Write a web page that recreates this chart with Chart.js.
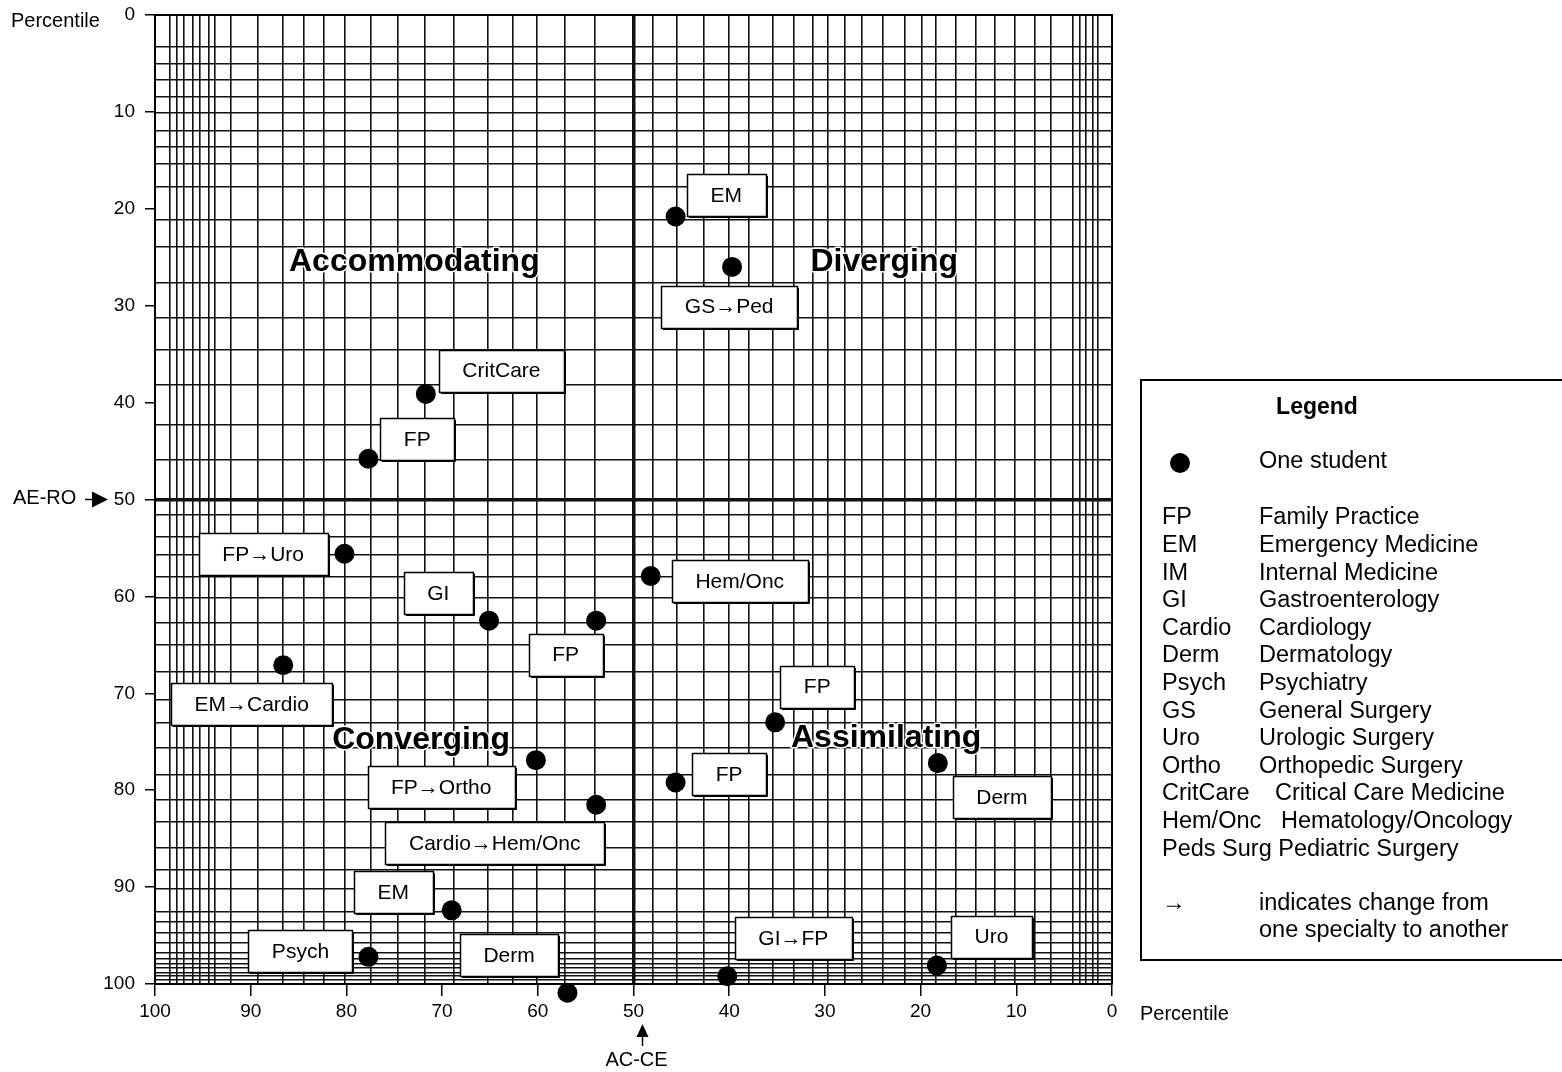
<!DOCTYPE html>
<html>
<head>
<meta charset="utf-8">
<script src="https://cdn.jsdelivr.net/npm/chart.js@4.4.1/dist/chart.umd.min.js"></script>
<style>
  html, body { margin: 0; padding: 0; background: #fff; }
  #wrap { width: 1562px; height: 1072px; }
</style>
</head>
<body>
<div id="wrap"><canvas id="c" width="1562" height="1072"></canvas></div>
<script>
// ---------- data ----------
const tickValues = [0, 10, 20, 30, 40, 50, 60, 70, 80, 90, 100];

// irregular grid lines of the Kolb grid (percentile values)
const gridX = [1.5, 2.0, 2.7, 3.4, 4.1, 6.4, 8.1, 10.2, 12.2, 14.2, 16.3, 18.4, 19.9, 21.7, 23.9, 26.1, 27.9, 29.7, 31.3, 33.3, 35.4, 37.9, 40.0, 42.7, 45.5, 48.0, 50, 54.0, 57.2, 60.1, 62.6, 65.2, 68.8, 71.8, 74.6, 77.5, 80.2, 82.4, 84.5, 86.6, 89.3, 92.1, 93.7, 94.4, 95.3, 96.1, 97.0, 97.7, 98.5];
const gridY = [3.3, 5.0, 6.7, 8.4, 10.1, 11.9, 13.6, 15.4, 17.7, 21.1, 23.9, 27.6, 31.3, 34.6, 38.2, 42.3, 45.9, 50, 51.6, 53.8, 55.7, 58.0, 60.1, 62.7, 65.0, 67.8, 70.7, 73.0, 75.6, 78.4, 81.0, 83.3, 85.9, 88.2, 90.2, 92.5, 93.6, 94.7, 95.7, 96.8, 97.4, 97.9, 98.3, 98.8, 99.2, 99.6];

// students (AC-CE percentile, AE-RO percentile)
const studentX = [45.6, 39.7, 71.7, 77.7, 80.2, 48.2, 65.1, 53.9, 86.6, 35.2, 60.2, 18.2, 45.6, 53.9, 69.0, 77.7, 56.9, 40.2, 18.3];
const studentY = [20.8, 26.0, 39.1, 45.8, 55.6, 57.9, 62.5, 62.5, 67.1, 73.0, 76.9, 77.2, 79.2, 81.5, 92.4, 97.2, 100.9, 99.2, 98.1];

// specialty labels (text and anchor in chart values)
const labelText = ['EM', 'GS\u2192Ped', 'CritCare', 'FP', 'FP\u2192Uro', 'Hem/Onc', 'GI', 'FP', 'EM\u2192Cardio', 'FP', 'FP\u2192Ortho', 'FP', 'Derm', 'Cardio\u2192Hem/Onc', 'EM', 'Psych', 'Derm', 'GI\u2192FP', 'Uro'];
const labelX = [40.3, 40.0, 63.8, 72.6, 88.7, 38.9, 70.4, 57.1, 89.9, 30.8, 70.1, 40.0, 11.5, 64.5, 75.1, 84.8, 63.0, 33.3, 12.6];
const labelY = [18.6, 30.1, 36.7, 43.8, 55.6, 58.4, 59.7, 66.0, 71.1, 69.3, 79.7, 78.3, 80.7, 85.5, 90.5, 96.6, 97.0, 95.3, 95.1];

const quadrantNames = ['Accommodating', 'Diverging', 'Converging', 'Assimilating'];
const quadrantX = [72.9, 23.8, 72.2, 23.6];
const quadrantY = [25.5, 25.5, 74.8, 74.6];

const legendAbbr = ['FP', 'EM', 'IM', 'GI', 'Cardio', 'Derm', 'Psych', 'GS', 'Uro', 'Ortho', 'CritCare', 'Hem/Onc', 'Peds Surg'];
const legendName = ['Family Practice', 'Emergency Medicine', 'Internal Medicine', 'Gastroenterology', 'Cardiology', 'Dermatology', 'Psychiatry', 'General Surgery', 'Urologic Surgery', 'Orthopedic Surgery', 'Critical Care Medicine', 'Hematology/Oncology', 'Pediatric Surgery'];

// ---------- drawing ----------
const FONT = '"Liberation Sans", Arial, Helvetica, sans-serif';

const overlay = {
  id: 'overlay',
  afterDatasetsDraw(chart) {
    const ctx = chart.ctx, xs = chart.scales.x, ys = chart.scales.y;
    ctx.save();
    // quadrant names
    ctx.font = 'bold 32px ' + FONT;
    ctx.textAlign = 'center';
    ctx.textBaseline = 'middle';
    quadrantNames.forEach((t, i) => {
      const px = xs.getPixelForValue(quadrantX[i]), py = ys.getPixelForValue(quadrantY[i]);
      ctx.lineWidth = 3; ctx.strokeStyle = '#fff'; ctx.lineJoin = 'round';
      ctx.strokeText(t, px, py);
      ctx.fillStyle = '#000';
      ctx.fillText(t, px, py);
    });
    // label boxes
    ctx.font = '21px ' + FONT;
    labelText.forEach((t, i) => {
      const px = xs.getPixelForValue(labelX[i]), py = ys.getPixelForValue(labelY[i]);
      const w = Math.round(ctx.measureText(t).width + 47), h = 42;
      const l = Math.round(px - w / 2), tp = Math.round(py - h / 2);
      ctx.fillStyle = '#fff';
      ctx.fillRect(l, tp, w, h);
      ctx.strokeStyle = '#000'; ctx.lineWidth = 1.5;
      ctx.strokeRect(l + 0.5, tp + 0.5, w, h);
      ctx.lineWidth = 1;
      ctx.beginPath(); ctx.moveTo(l + w + 1.5, tp + 2); ctx.lineTo(l + w + 1.5, tp + h + 1.5); ctx.lineTo(l + 2, tp + h + 1.5); ctx.stroke();
      ctx.fillStyle = '#000';
      ctx.fillText(t, px, py + 1);
    });
    ctx.restore();
  },
  afterDraw(chart) {
    const ctx = chart.ctx, xs = chart.scales.x, ys = chart.scales.y;
    ctx.save();
    ctx.fillStyle = '#000';
    ctx.strokeStyle = '#000';
    ctx.font = '20px ' + FONT;
    ctx.textBaseline = 'middle';
    ctx.textAlign = 'left';
    // axis titles
    ctx.fillText('Percentile', 11, 21);
    ctx.fillText('Percentile', 1140, 1014);
    // AE-RO arrow
    const y50 = ys.getPixelForValue(50);
    ctx.fillText('AE-RO', 13, y50 - 1);
    ctx.lineWidth = 1.5;
    ctx.beginPath(); ctx.moveTo(85, y50); ctx.lineTo(95, y50); ctx.stroke();
    ctx.beginPath(); ctx.moveTo(92, y50 - 8); ctx.lineTo(108, y50); ctx.lineTo(92, y50 + 8); ctx.closePath(); ctx.fill();
    // AC-CE arrow
    const x50 = xs.getPixelForValue(50) + 9;
    ctx.beginPath(); ctx.moveTo(x50 - 6, 1037); ctx.lineTo(x50, 1024); ctx.lineTo(x50 + 6, 1037); ctx.closePath(); ctx.fill();
    ctx.beginPath(); ctx.moveTo(x50, 1035); ctx.lineTo(x50, 1046); ctx.stroke();
    ctx.textAlign = 'center';
    ctx.fillText('AC-CE', x50 - 6, 1060);

    // legend box
    const L = 1141, T = 380, R = 1570, B = 960;
    ctx.lineWidth = 2;
    ctx.strokeRect(L, T, R - L, B - T);
    ctx.font = 'bold 23px ' + FONT;
    ctx.textAlign = 'center';
    ctx.fillText('Legend', 1317, 408);
    ctx.beginPath(); ctx.arc(1180, 463, 10, 0, Math.PI * 2); ctx.fill();
    ctx.font = '23.5px ' + FONT;
    ctx.textAlign = 'left';
    ctx.fillText('One student', 1259, 462);
    legendAbbr.forEach((a, i) => {
      const y = 518 + i * 27.6;
      if (a === 'Peds Surg') {
        ctx.fillText(a + ' ' + legendName[i], 1162, y);
      } else if (a === 'CritCare' || a === 'Hem/Onc') {
        ctx.fillText(a, 1162, y);
        ctx.fillText(legendName[i], a === 'CritCare' ? 1275 : 1281, y);
      } else {
        ctx.fillText(a, 1162, y);
        ctx.fillText(legendName[i], 1259, y);
      }
    });
    ctx.fillText('\u2192', 1162, 904);
    ctx.fillText('indicates change from', 1259, 904);
    ctx.fillText('one specialty to another', 1259, 931);
    ctx.restore();
  }
};

const tickFont = { family: FONT, size: 19 };

new Chart(document.getElementById('c'), {
  type: 'scatter',
  data: {
    datasets: [{
      data: studentX.map((x, i) => ({ x, y: studentY[i] })),
      xAxisID: 'x', yAxisID: 'y',
      pointRadius: 10, pointHoverRadius: 10,
      backgroundColor: '#000', borderWidth: 0,
      clip: false
    }]
  },
  options: {
    responsive: false,
    animation: false,
    devicePixelRatio: 1,
    layout: { padding: { left: 0, right: 450, top: 15, bottom: 0 } },
    plugins: { legend: { display: false }, tooltip: { enabled: false } },
    scales: {
      x: {
        type: 'linear', position: 'bottom', min: 0, max: 100, reverse: true,
        afterBuildTicks: s => { s.ticks = tickValues.map(v => ({ value: v })); },
        ticks: { font: tickFont, color: '#000', padding: 4, maxRotation: 0, autoSkip: false },
        grid: { drawOnChartArea: false, drawTicks: true, tickLength: 12, color: '#000', lineWidth: 1.5 },
        border: { display: true, color: '#000', width: 2 },
        afterFit: s => { s.height = 88; s.paddingLeft = 0; s.paddingRight = 0; }
      },
      xg: {
        type: 'linear', position: 'top', min: 0, max: 100, reverse: true,
        afterBuildTicks: s => { s.ticks = gridX.map(v => ({ value: v })); },
        ticks: { display: false },
        grid: { drawTicks: false, color: '#111', lineWidth: c => (c.tick && c.tick.value === 50 ? 3.5 : 1.6) },
        border: { display: true, color: '#000', width: 2 },
        afterFit: s => { s.height = 0; s.paddingLeft = 0; s.paddingRight = 0; }
      },
      y: {
        type: 'linear', position: 'left', min: 0, max: 100, reverse: true,
        afterBuildTicks: s => { s.ticks = tickValues.map(v => ({ value: v })); },
        ticks: { font: tickFont, color: '#000', padding: 10, autoSkip: false },
        grid: { drawOnChartArea: false, drawTicks: true, tickLength: 10, color: '#000', lineWidth: 1.5 },
        border: { display: true, color: '#000', width: 2 },
        afterFit: s => { s.width = 155; s.paddingTop = 0; s.paddingBottom = 0; }
      },
      yg: {
        type: 'linear', position: 'right', min: 0, max: 100, reverse: true,
        afterBuildTicks: s => { s.ticks = gridY.map(v => ({ value: v })); },
        ticks: { display: false },
        grid: { drawTicks: false, color: '#111', lineWidth: c => (c.tick && c.tick.value === 50 ? 3.5 : 1.6) },
        border: { display: true, color: '#000', width: 2 },
        afterFit: s => { s.width = 0; s.paddingTop = 0; s.paddingBottom = 0; }
      }
    }
  },
  plugins: [overlay]
});
</script>
</body>
</html>
